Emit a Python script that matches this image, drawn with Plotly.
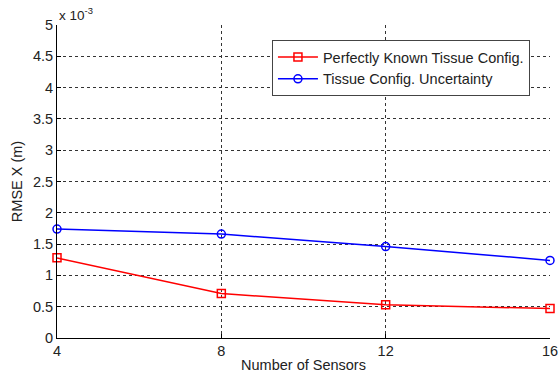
import plotly.graph_objects as go

sensors = [4, 8, 12, 16]
known_rmse = [1.28, 0.71, 0.53, 0.47]       # x 1e-3 m
uncertain_rmse = [1.74, 1.66, 1.46, 1.24]   # x 1e-3 m
y_ticks = [0, 0.5, 1, 1.5, 2, 2.5, 3, 3.5, 4, 4.5, 5]
y_tick_labels = ["0", "0.5", "1", "1.5", "2", "2.5", "3", "3.5", "4", "4.5", "5"]
x_ticks = [4, 8, 12, 16]

font = "Liberation Sans, Arial, sans-serif"
fs = 14.5

fig = go.Figure()
fig.add_trace(go.Scatter(
    x=sensors, y=known_rmse, mode="lines+markers",
    name="Perfectly Known Tissue Config.",
    line=dict(color="#ff0000", width=1.5),
    marker=dict(symbol="square-open", size=8, color="#ff0000", line=dict(width=1.5)),
    cliponaxis=False,
))
fig.add_trace(go.Scatter(
    x=sensors, y=uncertain_rmse, mode="lines+markers",
    name="Tissue Config. Uncertainty",
    line=dict(color="#0000ff", width=1.5),
    marker=dict(symbol="circle-open", size=8, color="#0000ff", line=dict(width=1.5)),
    cliponaxis=False,
))

fig.update_layout(
    width=559, height=373,
    margin=dict(l=57, r=9, t=25, b=35, autoexpand=False),
    paper_bgcolor="white", plot_bgcolor="white",
    font=dict(family=font, size=fs, color="#222222"),
    showlegend=True,
    legend=dict(
        x=0.436, y=0.952, xanchor="left", yanchor="top",
        bgcolor="white", bordercolor="#444444", borderwidth=1,
        font=dict(size=fs, color="#222222"),
        tracegroupgap=0, itemwidth=40,
    ),
    xaxis=dict(
        range=[4, 16], tickvals=x_ticks, ticktext=[str(v) for v in x_ticks],
        showline=True, linecolor="black", linewidth=1, mirror=False,
        ticks="inside", ticklen=4, tickcolor="black",
        showgrid=True, gridcolor="#333333", griddash="3px,3px", gridwidth=1,
        zeroline=False, automargin=False,
        title=dict(text="Number of Sensors", font=dict(size=fs), standoff=2),
    ),
    yaxis=dict(
        range=[0, 5], tickvals=y_ticks, ticktext=y_tick_labels,
        showline=True, linecolor="black", linewidth=1, mirror=False,
        ticks="inside", ticklen=4, tickcolor="black",
        showgrid=True, gridcolor="#333333", griddash="3px,3px", gridwidth=1,
        zeroline=False, automargin=False,
        title=dict(text="RMSE X (m)", font=dict(size=fs), standoff=6),
    ),
)

fig.add_annotation(
    text="x 10<sup>-3</sup>", xref="paper", yref="paper",
    x=0, y=1, xanchor="left", yanchor="bottom", yshift=0,
    showarrow=False, font=dict(size=13.5, color="#222222"),
)

fig.write_html(
    "out.html",
    config={"displayModeBar": False},
    post_script="document.body.style.margin='0';document.body.style.overflow='hidden';",
)
